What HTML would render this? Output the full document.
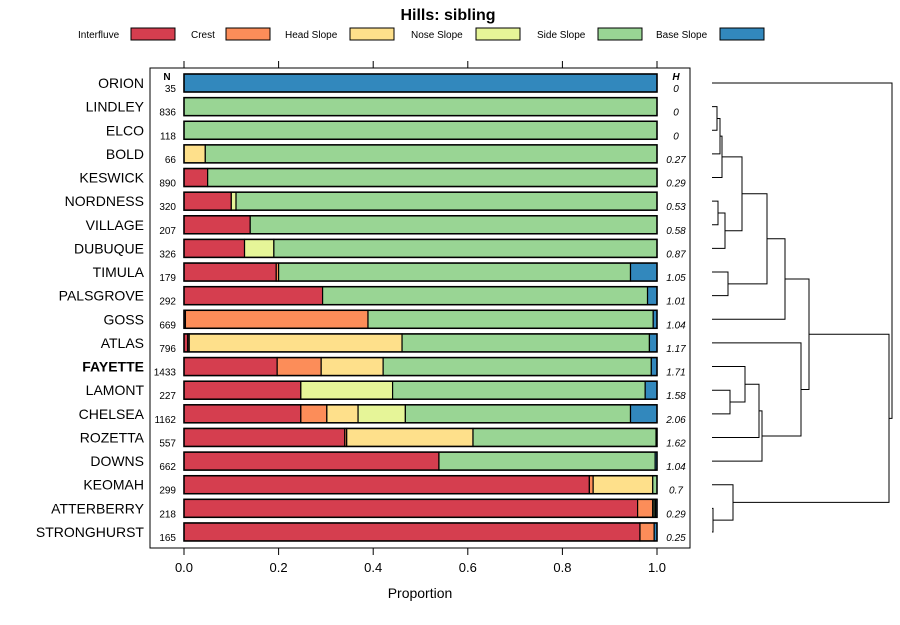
<!DOCTYPE html>
<html><head><meta charset="utf-8"><style>
body{margin:0;background:#fff;}
svg text{font-family:"Liberation Sans",sans-serif;}
</style></head><body>
<svg id="chart" width="900" height="620" xmlns="http://www.w3.org/2000/svg">
<text x="448" y="20" text-anchor="middle" font-size="16" font-weight="bold">Hills: sibling</text>
<g id="legend"></g>
<rect x="150" y="68" width="540" height="480" fill="none" stroke="#000"/>
<g id="bars"></g>
<g id="axis"></g>
<text x="420" y="598" text-anchor="middle" font-size="14">Proportion</text>
<text x="167" y="80" text-anchor="middle" font-size="10" font-weight="bold">N</text>
<text x="676" y="80" text-anchor="middle" font-size="10" font-weight="bold" font-style="italic">H</text>
<g id="dendro" stroke="#000" fill="none" stroke-width="1"></g>
</svg>
<script>
const classes=["Interfluve","Crest","Head Slope","Nose Slope","Side Slope","Base Slope"];
const colors=["#D53E4F","#FC8D59","#FEE08B","#E6F598","#99D594","#3288BD"];
const series=["ORION","LINDLEY","ELCO","BOLD","KESWICK","NORDNESS","VILLAGE","DUBUQUE","TIMULA","PALSGROVE","GOSS","ATLAS","FAYETTE","LAMONT","CHELSEA","ROZETTA","DOWNS","KEOMAH","ATTERBERRY","STRONGHURST"];
const nVals=[35,836,118,66,890,320,207,326,179,292,669,796,1433,227,1162,557,662,299,218,165];
const hVals=["0","0","0","0.27","0.29","0.53","0.58","0.87","1.05","1.01","1.04","1.17","1.71","1.58","2.06","1.62","1.04","0.7","0.29","0.25"];
const proportions=[
[0,0,0,0,0,1],
[0,0,0,0,1,0],
[0,0,0,0,1,0],
[0,0,0.045,0,0.955,0],
[0.05,0,0,0,0.95,0],
[0.10,0,0,0.01,0.89,0],
[0.14,0,0,0,0.86,0],
[0.128,0,0,0.062,0.81,0],
[0.195,0.005,0,0,0.744,0.056],
[0.293,0,0,0,0.687,0.02],
[0.003,0.386,0,0,0.603,0.008],
[0.008,0.003,0.45,0,0.523,0.016],
[0.197,0.093,0.131,0,0.567,0.012],
[0.247,0,0,0.194,0.534,0.025],
[0.247,0.055,0.066,0.1,0.476,0.056],
[0.34,0.004,0.267,0,0.387,0.002],
[0.539,0,0,0,0.457,0.004],
[0.857,0.008,0.126,0,0.009,0],
[0.959,0.032,0,0.003,0.003,0.003],
[0.964,0.03,0,0,0,0.006]];
const ticks=[0,0.2,0.4,0.6,0.8,1.0];
const tickLabels=["0.0","0.2","0.4","0.6","0.8","1.0"];
// dendrogram merges: [left, right, height]; negative = leaf index (-(i+1)), positive = merge number (1-based)
const merges=[[-2,-3,5],[1,-4,8],[2,-5,10],[-6,-7,6],[4,-8,13],[3,5,30],[-9,-10,16],[6,7,55],[8,-11,73],[-14,-15,18],[-13,10,33],[11,-16,47],[12,-17,50],[-12,13,89],[9,14,97],[-19,-20,1],[-18,16,21],[15,17,177],[-1,18,180]];

const NS="http://www.w3.org/2000/svg";
function mk(tag,attrs,parent){const e=document.createElementNS(NS,tag);for(const k in attrs)e.setAttribute(k,attrs[k]);parent.appendChild(e);return e;}
const x0=184,x1=657;
const xs=v=>x0+v*(x1-x0);
const ys=i=>83+i*23.63;
const barsG=document.getElementById('bars');
series.forEach((name,i)=>{
  const y=ys(i);
  let acc=0;
  proportions[i].forEach((p,k)=>{
    if(p<=0){return;}
    const r=mk('rect',{x:xs(acc),y:y-9,width:xs(acc+p)-xs(acc),height:18,fill:colors[k],stroke:'#000','stroke-width':1.2},barsG);
    
    
    acc+=p;
  });
  const ol=mk('rect',{x:x0,y:y-9,width:x1-x0,height:18,fill:'none',stroke:'#000','stroke-width':1.5},barsG);
  
  
  const t=mk('text',{x:144,y:y+5,'text-anchor':'end','font-size':14,'font-weight':name==='FAYETTE'?'bold':'normal'},barsG);
  t.textContent=name;
  
  
  const n=mk('text',{x:176,y:y+9,'text-anchor':'end','font-size':10},barsG);
  n.textContent=nVals[i];
  
  
  const h=mk('text',{x:676,y:y+9,'text-anchor':'middle','font-size':10,'font-style':'italic'},barsG);
  h.textContent=hVals[i];
  
  
});
const ax=document.getElementById('axis');
ticks.forEach((v,i)=>{
  mk('line',{x1:xs(v),x2:xs(v),y1:548,y2:555,stroke:'#000'},ax);
  mk('line',{x1:xs(v),x2:xs(v),y1:61,y2:68,stroke:'#000'},ax);
  const t=mk('text',{x:xs(v),y:572,'text-anchor':'middle','font-size':13},ax);
  t.textContent=tickLabels[i];
  
  
});
// legend
const lg=document.getElementById('legend');
const lgText=[78,191,285,411,537,656],lgRect=[131,226,350,476,598,720];
classes.forEach((c,k)=>{
  const t=mk('text',{x:lgText[k],y:38,'font-size':10},lg);
  t.textContent=c;
  
  
  const r=mk('rect',{x:lgRect[k],y:28,width:44,height:12,fill:colors[k],stroke:'#000'},lg);
  
  
});
// dendrogram
const dg=document.getElementById('dendro');
const dx=h=>712+h;
const info=[];
function node(id){ if(id<0){return {y:ys(-id-1),h:0};} return info[id-1]; }
merges.forEach(m=>{
  const a=node(m[0]),b=node(m[1]),hx=dx(m[2]);
  mk('polyline',{points:`${dx(a.h)},${a.y} ${hx},${a.y} ${hx},${b.y} ${dx(b.h)},${b.y}`},dg);
  info.push({y:(a.y+b.y)/2,h:m[2]});
});
</script>
</body></html>
